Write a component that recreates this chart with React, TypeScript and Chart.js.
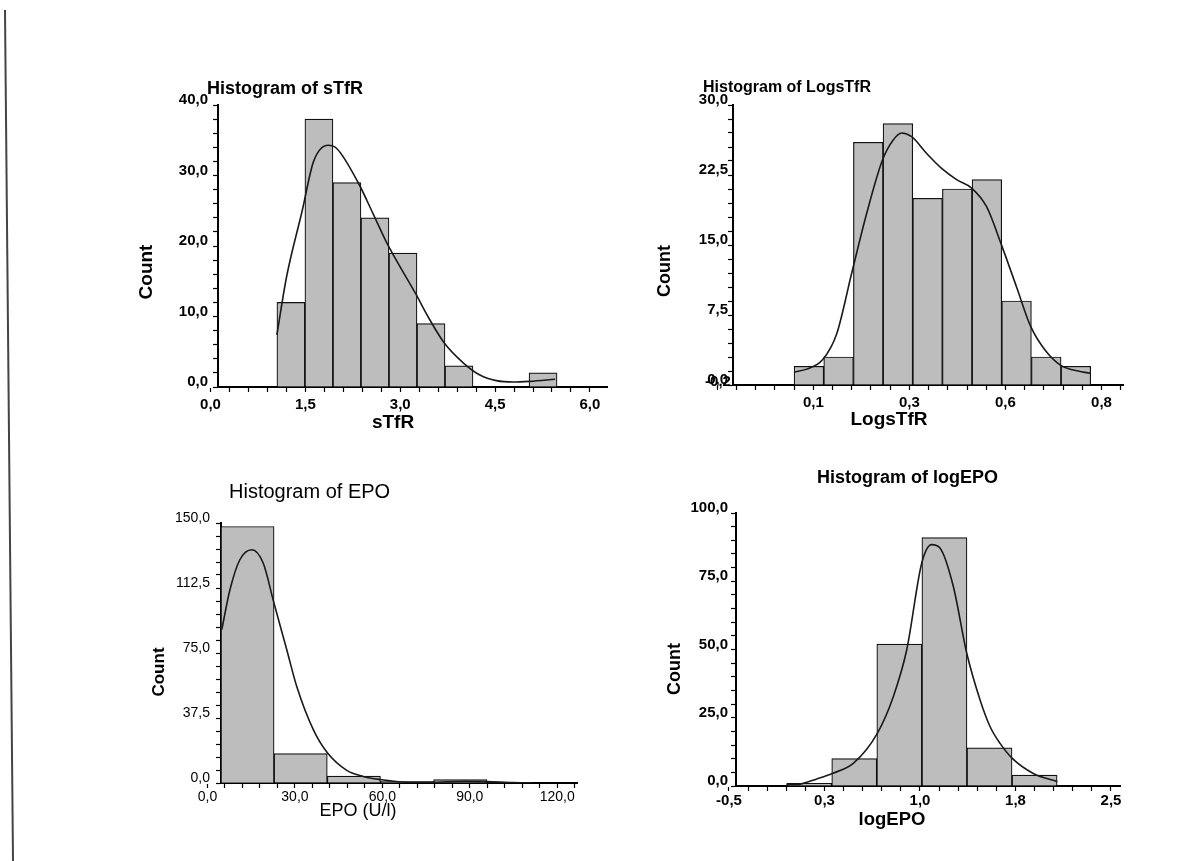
import React, { useEffect, useRef } from 'react';
import { Chart, registerables } from 'chart.js';

Chart.register(...registerables);

const FONT = '"Liberation Sans", Arial, Helvetica, sans-serif';

// ---------- Panel 1: sTfR ----------
const STFR_BIN_EDGES = [1.05, 1.493, 1.936, 2.379, 2.822, 3.265, 3.708, 4.151, 4.594, 5.037, 5.48];
const STFR_COUNTS = [12, 38, 29, 24, 19, 9, 3, 0, 0, 2];
const STFR_CURVE_X = [1.05, 1.2, 1.45, 1.63, 1.86, 2.0, 2.34, 2.57, 2.79, 3.24, 3.47, 3.7, 4.0, 4.26, 4.52, 4.79, 5.05, 5.45];
const STFR_CURVE_Y = [7.4, 15.5, 25.0, 32.0, 34.3, 33.8, 28.9, 24.6, 20.4, 13.3, 9.5, 6.2, 3.4, 1.7, 0.9, 0.7, 0.8, 1.1];
const STFR_X_TICKS = [0, 1.5, 3, 4.5, 6];
const STFR_X_LABELS = ['0,0', '1,5', '3,0', '4,5', '6,0'];
const STFR_Y_TICKS = [0, 10, 20, 30, 40];
const STFR_Y_LABELS = ['0,0', '10,0', '20,0', '30,0', '40,0'];

// ---------- Panel 2: LogsTfR ----------
const LOGSTFR_BIN_EDGES = [0, 0.0772, 0.1544, 0.2316, 0.3088, 0.386, 0.4632, 0.5404, 0.6176, 0.6948, 0.772];
const LOGSTFR_COUNTS = [2, 3, 26, 28, 20, 21, 22, 9, 3, 2];
const LOGSTFR_CURVE_X = [0.0, 0.033, 0.074, 0.111, 0.15, 0.189, 0.23, 0.258, 0.28, 0.306, 0.345, 0.384, 0.423, 0.462, 0.501, 0.538, 0.579, 0.616, 0.653, 0.694, 0.727, 0.772];
const LOGSTFR_CURVE_Y = [1.4, 1.7, 2.7, 5.5, 12.0, 18.4, 24.1, 26.25, 27.0, 26.6, 24.8, 23.2, 22.0, 21.1, 19.1, 15.2, 10.5, 6.25, 3.75, 2.1, 1.6, 1.25];
const LOGSTFR_X_TICKS = [-0.2, 0.05, 0.3, 0.55, 0.8];
// the first label ("-0,2") is printed up against the origin in the original, see panel texts
const LOGSTFR_X_LABELS = ['', '0,1', '0,3', '0,6', '0,8'];
const LOGSTFR_ORIGIN_LABEL = '-0,2';
const LOGSTFR_Y_TICKS = [0, 7.5, 15, 22.5, 30];
const LOGSTFR_Y_LABELS = ['0,0', '7,5', '15,0', '22,5', '30,0'];

// ---------- Panel 3: EPO ----------
const EPO_BIN_EDGES = [4.6, 22.85, 41.1, 59.35, 77.6, 95.85];
const EPO_COUNTS = [148, 17, 4, 1, 2];
const EPO_CURVE_X = [4.9, 7.7, 11.1, 15.2, 19.1, 22.8, 27.2, 30.6, 36.3, 41.2, 47.8, 53.4, 59.8, 67.2, 76.3, 87.8, 96.0, 104.9, 111.2];
const EPO_CURVE_Y = [88.5, 111.5, 128.8, 134.6, 126.9, 103.8, 76.9, 55.8, 30.8, 17.3, 7.3, 3.8, 1.9, 0.6, 0.4, 1.0, 0.8, 0.2, 0];
const EPO_X_TICKS = [0, 30, 60, 90, 120];
const EPO_X_LABELS = ['0,0', '30,0', '60,0', '90,0', '120,0'];
const EPO_Y_TICKS = [0, 37.5, 75, 112.5, 150];
const EPO_Y_LABELS = ['0,0', '37,5', '75,0', '112,5', '150,0'];

// ---------- Panel 4: logEPO ----------
const LOGEPO_BIN_EDGES = [-0.047, 0.307, 0.661, 1.015, 1.369, 1.723, 2.077];
const LOGEPO_COUNTS = [1, 10, 52, 91, 14, 4];
const LOGEPO_CURVE_X = [-0.047, 0.058, 0.189, 0.311, 0.476, 0.665, 0.791, 0.896, 1.014, 1.092, 1.157, 1.262, 1.367, 1.472, 1.55, 1.629, 1.725, 1.89, 2.079];
const LOGEPO_CURVE_Y = [0.4, 0.7, 2.6, 4.6, 8.3, 19.3, 32.8, 49.9, 81.7, 88.4, 87.2, 73.1, 48.7, 31.5, 21.8, 15.6, 10.1, 4.6, 1.6];
const LOGEPO_X_TICKS = [-0.5, 0.25, 1.0, 1.75, 2.5];
const LOGEPO_X_LABELS = ['-0,5', '0,3', '1,0', '1,8', '2,5'];
const LOGEPO_Y_TICKS = [0, 25, 50, 75, 100];
const LOGEPO_Y_LABELS = ['0,0', '25,0', '50,0', '75,0', '100,0'];

type TextItem = {
  text: string;
  dx: number;
  dy: number;
  from: 'top' | 'bottom';
  align: CanvasTextAlign;
  size: number;
  weight: string;
  rotate?: boolean;
};

type PanelCfg = {
  box: { left: number; top: number; width: number; height: number };
  padding: { left: number; top: number; right: number; bottom: number };
  yWidth: number;
  xHeight: number;
  xMin: number;
  xMax: number;
  edges: number[];
  counts: number[];
  curveX: number[];
  curveY: number[];
  xTicks: number[];
  xLabels: string[];
  yTicks: number[];
  yLabels: string[];
  tickSize: number;
  tickWeight: string;
  yPad: number;
  xPad: number;
  texts: TextItem[];
};

const panelText = {
  id: 'panelText',
  afterDraw(chart: any, _args: any, opts: any) {
    const { ctx, chartArea } = chart;
    const items: TextItem[] = (opts && opts.items) || [];
    items.forEach((t) => {
      ctx.save();
      ctx.font = `${t.weight} ${t.size}px ${FONT}`;
      ctx.fillStyle = '#000';
      ctx.textBaseline = 'middle';
      ctx.textAlign = t.align;
      const x = chartArea.left + t.dx;
      const y = (t.from === 'top' ? chartArea.top : chartArea.bottom) + t.dy;
      ctx.translate(x, y);
      if (t.rotate) ctx.rotate(-Math.PI / 2);
      ctx.fillText(t.text, 0, 0);
      ctx.restore();
    });
  },
};

function withMinor(majors: number[], n: number, min: number, max: number): number[] {
  const out: number[] = [];
  const step = (majors[1] - majors[0]) / n;
  let v = majors[0];
  const last = Math.max(max, majors[majors.length - 1]);
  let k = 0;
  while (v <= last + 1e-9) {
    const isMajor = majors.some((m) => Math.abs(m - v) < 1e-9);
    if (isMajor || (v >= min - 1e-9 && v <= max + 1e-9)) out.push(v);
    k += 1;
    v = majors[0] + k * step;
  }
  return out;
}

function labelFor(value: number, majors: number[], labels: string[]): string {
  const i = majors.findIndex((m) => Math.abs(m - value) < 1e-9);
  return i >= 0 ? labels[i] : '';
}

function Panel({ cfg }: { cfg: PanelCfg }) {
  const ref = useRef<HTMLCanvasElement | null>(null);
  useEffect(() => {
    if (!ref.current) return;
    const centers = cfg.edges.slice(0, -1).map((e, i) => (e + cfg.edges[i + 1]) / 2);
    const barData = centers.map((c, i) => ({ x: c, y: cfg.counts[i] }));
    const lineData = cfg.curveX.map((x, i) => ({ x, y: cfg.curveY[i] }));
    const yMin = cfg.yTicks[0];
    const yMax = cfg.yTicks[cfg.yTicks.length - 1];
    const xTickVals = withMinor(cfg.xTicks, 5, cfg.xMin, cfg.xMax);
    const yTickVals = withMinor(cfg.yTicks, 5, yMin, yMax);
    const tickFont = { family: FONT, size: cfg.tickSize, weight: cfg.tickWeight as any };

    const chart = new Chart(ref.current, {
      type: 'bar',
      data: {
        datasets: [
          {
            type: 'line',
            data: lineData,
            xAxisID: 'x',
            yAxisID: 'y',
            borderColor: '#1a1a1a',
            borderWidth: 1.6,
            pointRadius: 0,
            fill: false,
            cubicInterpolationMode: 'monotone',
            order: 0,
          } as any,
          {
            type: 'bar',
            data: barData,
            xAxisID: 'xb',
            yAxisID: 'y',
            backgroundColor: '#bdbdbd',
            borderColor: '#111',
            borderWidth: 1.2,
            categoryPercentage: 1,
            barPercentage: 1,
            grouped: false,
            order: 1,
          } as any,
        ],
      },
      options: {
        animation: false,
        responsive: false,
        maintainAspectRatio: false,
        events: [],
        layout: { padding: cfg.padding },
        plugins: {
          legend: { display: false },
          tooltip: { enabled: false },
          title: { display: false },
          panelText: { items: cfg.texts },
        } as any,
        scales: {
          x: {
            type: 'linear',
            position: 'bottom',
            min: cfg.xMin,
            max: cfg.xMax,
            offset: false,
            afterBuildTicks: (s: any) => {
              s.ticks = xTickVals.map((v) => ({ value: v }));
            },
            afterFit: (s: any) => {
              s.height = cfg.xHeight;
            },
            grid: {
              display: true,
              drawOnChartArea: false,
              drawTicks: true,
              tickLength: 5,
              tickColor: '#000',
              tickWidth: 1.2,
              offset: false,
            },
            border: { display: true, color: '#000', width: 2 },
            ticks: {
              autoSkip: false,
              maxRotation: 0,
              minRotation: 0,
              padding: cfg.xPad,
              color: '#000',
              font: tickFont,
              callback: (v: any) => labelFor(Number(v), cfg.xTicks, cfg.xLabels),
            },
          },
          xb: {
            type: 'linear',
            display: false,
            min: cfg.xMin,
            max: cfg.xMax,
            offset: false,
            afterBuildTicks: (s: any) => {
              s.ticks = [{ value: cfg.xMin }, { value: cfg.xMax }];
            },
            grid: { offset: false },
          },
          y: {
            type: 'linear',
            position: 'left',
            min: yMin,
            max: yMax,
            afterBuildTicks: (s: any) => {
              s.ticks = yTickVals.map((v) => ({ value: v }));
            },
            afterFit: (s: any) => {
              s.width = cfg.yWidth;
            },
            grid: {
              display: true,
              drawOnChartArea: false,
              drawTicks: true,
              tickLength: 5,
              tickColor: '#000',
              tickWidth: 1.2,
            },
            border: { display: true, color: '#000', width: 2 },
            ticks: {
              autoSkip: false,
              padding: cfg.yPad,
              labelOffset: -5,
              color: '#000',
              font: tickFont,
              callback: (v: any) => labelFor(Number(v), cfg.yTicks, cfg.yLabels),
            },
          },
        } as any,
      },
      plugins: [panelText as any],
    });
    return () => chart.destroy();
  }, [cfg]);

  return (
    <canvas
      ref={ref}
      width={cfg.box.width}
      height={cfg.box.height}
      style={{
        position: 'absolute',
        left: cfg.box.left,
        top: cfg.box.top,
        width: cfg.box.width,
        height: cfg.box.height,
      }}
    />
  );
}

const PANELS: PanelCfg[] = [
  {
    box: { left: 110, top: 70, width: 520, height: 380 },
    padding: { left: 0, top: 35, right: 23, bottom: 23 },
    yWidth: 108,
    xHeight: 40,
    xMin: 0.1185,
    xMax: 6.27,
    edges: STFR_BIN_EDGES,
    counts: STFR_COUNTS,
    curveX: STFR_CURVE_X,
    curveY: STFR_CURVE_Y,
    xTicks: STFR_X_TICKS,
    xLabels: STFR_X_LABELS,
    yTicks: STFR_Y_TICKS,
    yLabels: STFR_Y_LABELS,
    tickSize: 15,
    tickWeight: 'bold',
    yPad: 5,
    xPad: 4,
    texts: [
      { text: 'Histogram of sTfR', dx: -11, dy: -16, from: 'top', align: 'left', size: 18, weight: 'bold' },
      { text: 'sTfR', dx: 175, dy: 36, from: 'bottom', align: 'center', size: 19, weight: 'bold' },
      { text: 'Count', dx: -71, dy: 167, from: 'top', align: 'center', size: 19, weight: 'bold', rotate: true },
    ],
  },
  {
    box: { left: 630, top: 70, width: 520, height: 380 },
    padding: { left: 0, top: 35, right: 27, bottom: 25 },
    yWidth: 103,
    xHeight: 40,
    xMin: -0.159,
    xMax: 0.856,
    edges: LOGSTFR_BIN_EDGES,
    counts: LOGSTFR_COUNTS,
    curveX: LOGSTFR_CURVE_X,
    curveY: LOGSTFR_CURVE_Y,
    xTicks: LOGSTFR_X_TICKS,
    xLabels: LOGSTFR_X_LABELS,
    yTicks: LOGSTFR_Y_TICKS,
    yLabels: LOGSTFR_Y_LABELS,
    tickSize: 15,
    tickWeight: 'bold',
    yPad: 0,
    xPad: 4,
    texts: [
      { text: 'Histogram of LogsTfR', dx: -30, dy: -17, from: 'top', align: 'left', size: 16, weight: 'bold' },
      { text: 'LogsTfR', dx: 156, dy: 35, from: 'bottom', align: 'center', size: 19, weight: 'bold' },
      { text: 'Count', dx: -68, dy: 166, from: 'top', align: 'center', size: 18, weight: 'bold', rotate: true },
      { text: LOGSTFR_ORIGIN_LABEL, dx: -15, dy: -3, from: 'bottom', align: 'center', size: 15, weight: 'bold' },
    ],
  },
  {
    box: { left: 110, top: 465, width: 510, height: 385 },
    padding: { left: 0, top: 58, right: 43, bottom: 27 },
    yWidth: 111,
    xHeight: 40,
    xMin: 4.63,
    xMax: 126.8,
    edges: EPO_BIN_EDGES,
    counts: EPO_COUNTS,
    curveX: EPO_CURVE_X,
    curveY: EPO_CURVE_Y,
    xTicks: EPO_X_TICKS,
    xLabels: EPO_X_LABELS,
    yTicks: EPO_Y_TICKS,
    yLabels: EPO_Y_LABELS,
    tickSize: 14,
    tickWeight: 'normal',
    yPad: 6,
    xPad: 1,
    texts: [
      { text: 'Histogram of EPO', dx: 8, dy: -31, from: 'top', align: 'left', size: 20, weight: 'normal' },
      { text: 'EPO (U/l)', dx: 137, dy: 28, from: 'bottom', align: 'center', size: 18, weight: 'normal' },
      { text: 'Count', dx: -62, dy: 149, from: 'top', align: 'center', size: 17, weight: 'bold', rotate: true },
    ],
  },
  {
    box: { left: 630, top: 455, width: 520, height: 395 },
    padding: { left: 0, top: 58, right: 30, bottom: 24 },
    yWidth: 106,
    xHeight: 40,
    xMin: -0.445,
    xMax: 2.571,
    edges: LOGEPO_BIN_EDGES,
    counts: LOGEPO_COUNTS,
    curveX: LOGEPO_CURVE_X,
    curveY: LOGEPO_CURVE_Y,
    xTicks: LOGEPO_X_TICKS,
    xLabels: LOGEPO_X_LABELS,
    yTicks: LOGEPO_Y_TICKS,
    yLabels: LOGEPO_Y_LABELS,
    tickSize: 15,
    tickWeight: 'bold',
    yPad: 3,
    xPad: 1,
    texts: [
      { text: 'Histogram of logEPO', dx: 81, dy: -35, from: 'top', align: 'left', size: 18, weight: 'bold' },
      { text: 'logEPO', dx: 156, dy: 34, from: 'bottom', align: 'center', size: 18.5, weight: 'bold' },
      { text: 'Count', dx: -61, dy: 156, from: 'top', align: 'center', size: 18, weight: 'bold', rotate: true },
    ],
  },
];

export default function App() {
  return (
    <div
      style={{
        position: 'absolute',
        left: 0,
        top: 0,
        width: 1198,
        height: 861,
        background: '#fff',
        overflow: 'hidden',
      }}
    >
      <div
        style={{
          position: 'absolute',
          left: 8,
          top: 10,
          width: 2,
          height: 851,
          background: '#444',
          transform: 'rotate(-0.54deg)',
        }}
      />
      {PANELS.map((p, i) => (
        <Panel key={i} cfg={p} />
      ))}
    </div>
  );
}
